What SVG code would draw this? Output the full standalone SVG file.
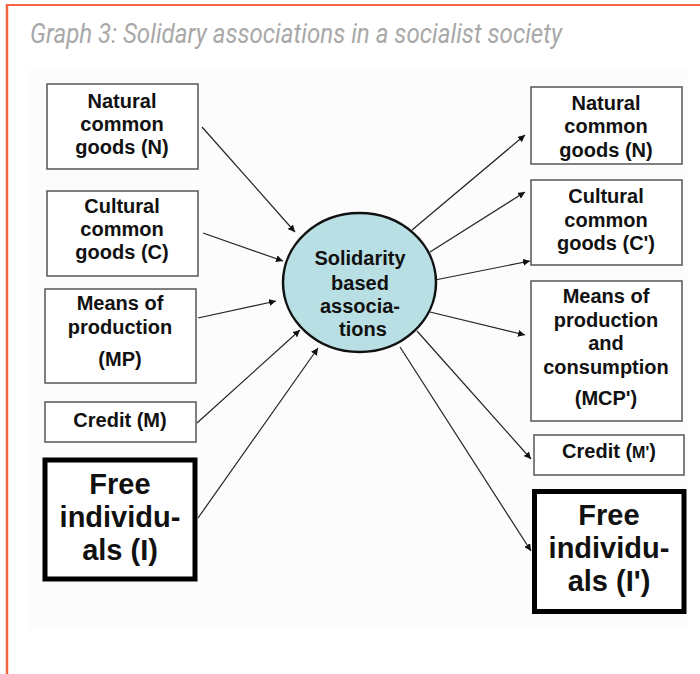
<svg xmlns="http://www.w3.org/2000/svg" width="700" height="674" viewBox="0 0 700 674">
  <defs>
    <marker id="arrow" viewBox="0 0 10 10" refX="10" refY="5" markerWidth="7" markerHeight="7" markerUnits="userSpaceOnUse" orient="auto">
      <path d="M0,0 L10,5 L0,10 z" fill="#111"/>
    </marker>
    <style>
      .frame { stroke: #f26540; fill: none; }
      .title { font-family: Roboto, "Liberation Sans", sans-serif; font-style: italic; font-size: 27px; fill: #a8a8a8; }
      .box { fill: #ffffff; stroke: #555555; stroke-width: 1.5; }
      .bold-box { fill: #ffffff; stroke: #000000; stroke-width: 5; }
      .lbl { font-family: "Liberation Sans", Arial, sans-serif; font-weight: bold; font-size: 20px; fill: #111; text-anchor: middle; }
      .big { font-size: 29px; }
      .hub { fill: #b8dfe3; stroke: #111; stroke-width: 2.5; }
      .edge { stroke: #222; stroke-width: 1.2; fill: none; marker-end: url(#arrow); }
    </style>
  </defs>

  <rect width="700" height="674" fill="#ffffff"/>
  <!-- page frame: top and left rules -->
  <line class="frame" x1="7" y1="5" x2="700" y2="5" stroke-width="2"/>
  <line class="frame" x1="7" y1="4" x2="7" y2="674" stroke-width="2.5"/>

  <text class="title" x="30" y="43" textLength="532" lengthAdjust="spacingAndGlyphs">Graph 3: Solidary associations in a socialist society</text>

  <!-- figure backdrop -->
  <rect x="27" y="70" width="661" height="560" fill="#fcfcfc"/>

  <!-- connectors -->
  <g id="connectors">
    <line class="edge" x1="202" y1="127" x2="295" y2="232"/>
    <line class="edge" x1="203" y1="233" x2="283" y2="261"/>
    <line class="edge" x1="198" y1="318" x2="276" y2="301"/>
    <line class="edge" x1="197" y1="423" x2="300" y2="330"/>
    <line class="edge" x1="198" y1="518" x2="318" y2="348"/>
    <line class="edge" x1="412" y1="230" x2="525" y2="135"/>
    <line class="edge" x1="430" y1="252" x2="525" y2="192"/>
    <line class="edge" x1="435" y1="280" x2="530" y2="261"/>
    <line class="edge" x1="430" y1="312" x2="525" y2="335"/>
    <line class="edge" x1="417" y1="331" x2="531" y2="459"/>
    <line class="edge" x1="400" y1="347" x2="531" y2="551"/>
  </g>

  <!-- central hub -->
  <g id="hub">
    <ellipse class="hub" cx="359.5" cy="282.5" rx="76.5" ry="69.5"/>
    <text class="lbl" x="360" y="265">Solidarity</text>
    <text class="lbl" x="360" y="290">based</text>
    <text class="lbl" x="360" y="313">associa-</text>
    <text class="lbl" x="363" y="336">tions</text>
  </g>

  <!-- inputs -->
  <g id="in-natural">
    <rect class="box" x="47" y="84" width="151" height="85"/>
    <text class="lbl" x="122" y="108">Natural</text>
    <text class="lbl" x="122" y="131">common</text>
    <text class="lbl" x="122" y="154">goods (N)</text>
  </g>
  <g id="in-cultural">
    <rect class="box" x="47" y="191" width="151" height="85"/>
    <text class="lbl" x="122" y="213">Cultural</text>
    <text class="lbl" x="122" y="236">common</text>
    <text class="lbl" x="122" y="259">goods (C)</text>
  </g>
  <g id="in-means">
    <rect class="box" x="45" y="289" width="151" height="94"/>
    <text class="lbl" x="120" y="310">Means of</text>
    <text class="lbl" x="120" y="334">production</text>
    <text class="lbl" x="120" y="366">(MP)</text>
  </g>
  <g id="in-credit">
    <rect class="box" x="45" y="402" width="151" height="40"/>
    <text class="lbl" x="120" y="427">Credit (M)</text>
  </g>
  <g id="in-individuals">
    <rect class="bold-box" x="45" y="460" width="150" height="119"/>
    <text class="lbl big" x="120" y="494">Free</text>
    <text class="lbl big" x="120" y="527">individu-</text>
    <text class="lbl big" x="120" y="560">als (I)</text>
  </g>

  <!-- outputs -->
  <g id="out-natural">
    <rect class="box" x="531" y="87" width="151" height="77"/>
    <text class="lbl" x="606" y="110">Natural</text>
    <text class="lbl" x="606" y="133">common</text>
    <text class="lbl" x="606" y="157">goods (N)</text>
  </g>
  <g id="out-cultural">
    <rect class="box" x="531" y="180" width="151" height="85"/>
    <text class="lbl" x="606" y="203">Cultural</text>
    <text class="lbl" x="606" y="227">common</text>
    <text class="lbl" x="606" y="250">goods (C')</text>
  </g>
  <g id="out-means">
    <rect class="box" x="531" y="281" width="151" height="140"/>
    <text class="lbl" x="606" y="303">Means of</text>
    <text class="lbl" x="606" y="327">production</text>
    <text class="lbl" x="606" y="350">and</text>
    <text class="lbl" x="606" y="374">consumption</text>
    <text class="lbl" x="606" y="405">(MCP')</text>
  </g>
  <g id="out-credit">
    <rect class="box" x="534" y="435" width="150" height="40"/>
    <text class="lbl" x="609" y="458">Credit (<tspan font-size="16">M'</tspan>)</text>
  </g>
  <g id="out-individuals">
    <rect class="bold-box" x="534.5" y="491.5" width="149.5" height="120"/>
    <text class="lbl big" x="609" y="525">Free</text>
    <text class="lbl big" x="609" y="558">individu-</text>
    <text class="lbl big" x="609" y="591">als (I')</text>
  </g>
</svg>
